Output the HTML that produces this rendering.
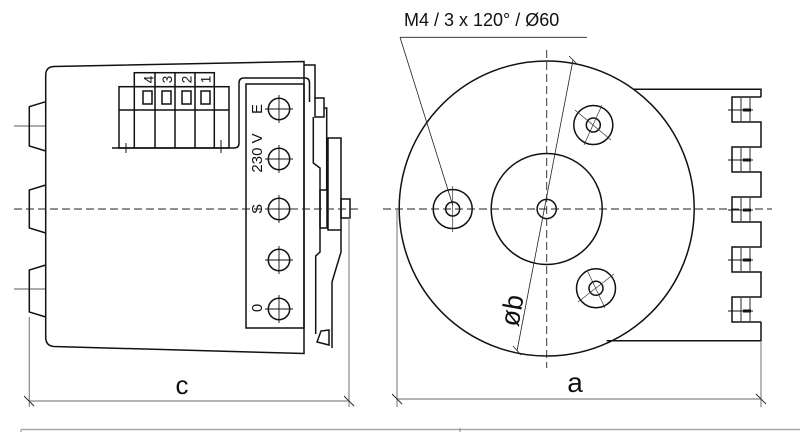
<!DOCTYPE html>
<html><head><meta charset="utf-8"><style>
html,body{margin:0;padding:0;background:#fff;}
svg{display:block;font-family:"Liberation Sans",Arial,sans-serif;}
</style></head><body>
<svg width="800" height="432" viewBox="0 0 800 432" xmlns="http://www.w3.org/2000/svg">
<g fill="none" stroke="#111" stroke-width="1.5">
<path d="M304,61.5 L54,66.5 Q45.7,67 45.7,75 L45.7,337 Q45.7,346 54,346.5 L304,353.5 Z"/>
<path d="M45.7,101.7 L29.3,106.7 L29.3,146 L45.7,151"/>
<path d="M45.7,185 L29.3,190 L29.3,228 L45.7,233"/>
<path d="M45.7,265 L29.3,270 L29.3,312 L45.7,317"/>
<rect x="134.3" y="72.7" width="80" height="14"/>
<rect x="119" y="86.7" width="110" height="61.3"/>
<line x1="119" y1="110" x2="229" y2="110"/>
<line x1="134.3" y1="86.7" x2="134.3" y2="148"/>
<line x1="155" y1="72.7" x2="155" y2="148"/>
<line x1="175" y1="72.7" x2="175" y2="148"/>
<line x1="195" y1="72.7" x2="195" y2="148"/>
<line x1="214.3" y1="86.7" x2="214.3" y2="148"/>
<rect x="143" y="91" width="9" height="13"/>
<rect x="162" y="91" width="9" height="13"/>
<rect x="182" y="91" width="9" height="13"/>
<rect x="201" y="91" width="9" height="13"/>
<path d="M112,148 L234,148 Q239,148 239,143 L239,83 Q239,78 244,78 L305,78 Q309.5,78 309.5,83 L309.5,102"/>
<line x1="126" y1="143" x2="126" y2="153" stroke-width="1"/>
<line x1="221" y1="140" x2="221" y2="153" stroke-width="1"/>
<rect x="246" y="84" width="58" height="244"/>
<g>
<circle cx="279" cy="109" r="10.7"/><circle cx="279" cy="159" r="10.7"/><circle cx="279" cy="209" r="10.7"/><circle cx="279" cy="260" r="10.7"/><circle cx="279" cy="309" r="10.7"/>
</g>
<g stroke-width="0.9">
<path d="M265,109h28M279,95v28M265,159h28M279,145v28M265,209h28M279,195v28M265,260h28M279,246v28M265,309h28M279,295v28"/>
</g>
<path d="M304,65 L315,65 L315,98"/>
<rect x="315" y="98" width="9" height="19"/>
<path d="M313.3,117 L313.3,163 L320,168 L320,252 L315.7,256 L315.7,334"/>
<path d="M324,108 L326.7,108 L326.7,190"/>
<rect x="320" y="190" width="7" height="38"/>
<rect x="328" y="138" width="13" height="92"/>
<path d="M341,230 L341,252 L332,282 L332,348"/>
<path d="M317,342 L321,331 L329,330 L329,345 Z"/>
<rect x="341" y="199" width="9" height="19"/>
<circle cx="546.7" cy="208.5" r="147.5"/>
<circle cx="546.7" cy="209" r="55.5"/>
<circle cx="546.7" cy="209" r="9.6"/>
<circle cx="452.7" cy="209" r="19.5"/>
<circle cx="452.7" cy="209" r="7"/>
<circle cx="593.3" cy="125" r="19.5"/>
<circle cx="593.3" cy="125" r="7"/>
<circle cx="596" cy="288.3" r="19.5"/>
<circle cx="596" cy="288.3" r="7"/>
<path d="M634,89.3 L761,89.3 L761,97"/>
<path d="M606.7,340.7 L761,340.7 L761,322"/>
<path d="M761,97 L732,97 L732,122 L761,122 L761,147 L732,147 L732,172 L761,172 L761,197 L732,197 L732,222 L761,222 L761,247 L732,247 L732,272 L761,272 L761,297 L732,297 L732,322 L761,322"/>
</g>
<g fill="none" stroke="#111" stroke-width="0.9">
<path d="M732,98v23M741,98v23M750,98v23M728,110h25"/>
<path d="M732,148v23M741,148v23M750,148v23M728,160h25"/>
<path d="M732,198v23M741,198v23M750,198v23M728,210h25"/>
<path d="M732,248v23M741,248v23M750,248v23M728,260h25"/>
<path d="M732,298v23M741,298v23M750,298v23M728,311h25"/>
</g>
<g fill="#111">
<rect x="743" y="108.5" width="8" height="3"/><rect x="743" y="158.5" width="8" height="3"/><rect x="743" y="208.5" width="8" height="3"/><rect x="743" y="258.5" width="8" height="3"/><rect x="743" y="309.5" width="8" height="3"/>
</g>
<g stroke="#333" stroke-width="0.7" fill="none">
<path d="M452.7,186v46M575,110l36,30M602,105l-18,40M578,302l36,-28M587,270l18,38"/>
</g>
<g stroke="#222" stroke-width="0.9" stroke-dasharray="8,4" fill="none">
<line x1="14" y1="209" x2="362" y2="209"/>
<line x1="383" y1="209" x2="772" y2="209"/>
<line x1="546.7" y1="50" x2="546.7" y2="368"/>
</g>
<g stroke="#222" stroke-width="0.8">
<line x1="14" y1="126" x2="45.7" y2="126"/>
<line x1="14" y1="289" x2="45.7" y2="289"/>
</g>
<g stroke="#222" stroke-width="0.8" fill="none">
<line x1="400" y1="37.3" x2="587" y2="37.3"/>
<line x1="400" y1="37.3" x2="452.7" y2="205"/>
<line x1="573" y1="60" x2="517" y2="351"/>
<line x1="569" y1="56" x2="577" y2="64"/>
<line x1="513" y1="346" x2="521" y2="355"/>
</g>
<g stroke="#888" stroke-width="1.2" fill="none">
<line x1="29.3" y1="317" x2="29.3" y2="407"/>
<line x1="349" y1="218" x2="349" y2="407"/>
<line x1="29.3" y1="401" x2="349" y2="401"/>
<line x1="397" y1="210" x2="397" y2="407"/>
<line x1="761" y1="341" x2="761" y2="407"/>
<line x1="397" y1="399" x2="761" y2="399"/>
</g>
<g stroke="#222" stroke-width="0.9">
<line x1="24" y1="396" x2="34" y2="406"/>
<line x1="344" y1="396" x2="354" y2="406"/>
<line x1="392" y1="394" x2="402" y2="404"/>
<line x1="756" y1="394" x2="766" y2="404"/>
</g>
<line x1="21" y1="429.5" x2="800" y2="429.5" stroke="#aaa" stroke-width="1.5"/>
<line x1="21" y1="429.5" x2="21" y2="432" stroke="#aaa" stroke-width="1.5"/>
<line x1="460" y1="428" x2="460" y2="432" stroke="#888" stroke-width="1"/>
<g fill="#111">
<text x="404" y="26" font-size="18">M4 / 3 x 120° / Ø60</text>
<text x="182" y="394" font-size="26" text-anchor="middle">c</text>
<text x="575" y="392" font-size="28" text-anchor="middle">a</text>
<text transform="translate(521,312) rotate(-80)" font-size="27" text-anchor="middle">øb</text>
<g font-size="13.5" text-anchor="middle">
<text transform="translate(150,79.5) rotate(-90)" dominant-baseline="middle">4</text>
<text transform="translate(168.5,79.5) rotate(-90)" dominant-baseline="middle">3</text>
<text transform="translate(188,79.5) rotate(-90)" dominant-baseline="middle">2</text>
<text transform="translate(207,79.5) rotate(-90)" dominant-baseline="middle">1</text>
</g>
<g font-size="15" text-anchor="middle">
<text transform="translate(262,109) rotate(-90)">E</text>
<text transform="translate(262,153) rotate(-90)">230 V</text>
<text transform="translate(262,209) rotate(-90)">S</text>
<text transform="translate(262,308) rotate(-90)">0</text>
</g>
</g>
</svg>
</body></html>
